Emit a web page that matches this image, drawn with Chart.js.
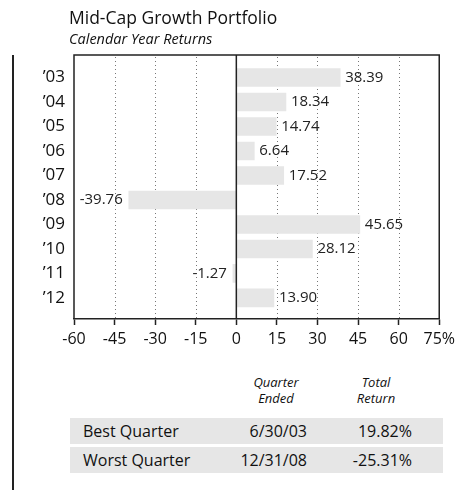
<!DOCTYPE html>
<html>
<head>
<meta charset="utf-8">
<script src="https://cdn.jsdelivr.net/npm/chart.js@4/dist/chart.umd.min.js"></script>
<style>
  body { margin: 0; background: #fff; font-family: "Open Sans", sans-serif; color: #111; }
  #wrap { position: relative; width: 460px; height: 490px; overflow: hidden; }
  #title { position: absolute; left: 69px; top: 5px; font-size: 17.5px; }
  #subtitle { position: absolute; left: 69px; top: 29px; font-size: 14.5px; font-style: italic; }
  #leftRule { position: absolute; left: 12px; top: 55px; width: 1.5px; height: 435px; background: #222; }
  #chartBox { position: absolute; left: 0; top: 0; }
  .hdr { position: absolute; font-size: 13px; font-style: italic; text-align: center; line-height: 16px; width: 90px; }
  .row { position: absolute; left: 70px; width: 373px; height: 26px; background: #e6e6e6; font-size: 16px; line-height: 26px; }
  .row span { position: absolute; }
  .c1 { left: 13px; }
  .c2 { right: 136px; }
  .c3 { right: 31px; }
</style>
</head>
<body>
<div id="wrap">
  <div id="chartBox"><canvas id="returnsChart" width="460" height="360"></canvas></div>
  <div id="title">Mid-Cap Growth Portfolio</div>
  <div id="subtitle">Calendar Year Returns</div>
  <div id="leftRule"></div>

  <div class="hdr" style="left:231px; top:374px;">Quarter<br>Ended</div>
  <div class="hdr" style="left:331px; top:374px;">Total<br>Return</div>
  <div class="row" style="top:418px;"><span class="c1">Best Quarter</span><span class="c2">6/30/03</span><span class="c3">19.82%</span></div>
  <div class="row" style="top:447px;"><span class="c1">Worst Quarter</span><span class="c2">12/31/08</span><span class="c3">-25.31%</span></div>
</div>

<script>
// chart data
const years = ["’03", "’04", "’05", "’06", "’07", "’08", "’09", "’10", "’11", "’12"];
const returns = [38.39, 18.34, 14.74, 6.64, 17.52, -39.76, 45.65, 28.12, -1.27, 13.90];
const xTicks = [-60, -45, -30, -15, 0, 15, 30, 45, 60, 75];

const FONT = "'Open Sans', sans-serif";
const INK = "#222";

// dotted grid + frame + zero line, all placed through the x scale
const framePlugin = {
  id: "frame",
  beforeDatasetsDraw(chart) {
    const { ctx, chartArea: a, scales: { x } } = chart;
    ctx.save();
    ctx.strokeStyle = "#777";
    ctx.lineWidth = 1;
    ctx.setLineDash([1, 3]);
    xTicks.forEach(function (t) {
      if (t === 0 || t === x.min || t === x.max) return;
      const px = Math.round(x.getPixelForValue(t)) + 0.5;
      ctx.beginPath();
      ctx.moveTo(px, a.top + 2);
      ctx.lineTo(px, a.bottom);
      ctx.stroke();
    });
    ctx.restore();
  },
  afterDatasetsDraw(chart) {
    const { ctx, chartArea: a, scales: { x } } = chart;
    ctx.save();
    ctx.strokeStyle = INK;
    ctx.lineWidth = 1.5;
    const zx = x.getPixelForValue(0);
    ctx.beginPath();
    ctx.moveTo(zx, a.top);
    ctx.lineTo(zx, a.bottom);
    ctx.stroke();
    ctx.beginPath();
    ctx.moveTo(a.left, a.bottom);
    ctx.lineTo(a.left, a.top);
    ctx.lineTo(a.right, a.top);
    ctx.lineTo(a.right, a.bottom);
    ctx.stroke();

    // value labels at bar ends
    const meta = chart.getDatasetMeta(0);
    ctx.fillStyle = INK;
    ctx.font = "15px " + FONT;
    ctx.textBaseline = "middle";
    meta.data.forEach(function (bar, i) {
      const v = returns[i];
      if (v >= 0) {
        ctx.textAlign = "left";
        ctx.fillText(v.toFixed(2), bar.x + 5, bar.y);
      } else {
        ctx.textAlign = "right";
        ctx.fillText(v.toFixed(2), bar.x - 6, bar.y);
      }
    });
    ctx.restore();
  }
};

const canvas = document.getElementById("returnsChart");

new Chart(canvas, {
  type: "bar",
  data: {
    datasets: [{
      data: returns.map(function (v, i) { return { x: v, y: i }; }),
      backgroundColor: "#e6e6e6",
      borderWidth: 0,
      barThickness: 18
    }]
  },
  options: {
    indexAxis: "y",
    responsive: false,
    animation: false,
    layout: { padding: { top: 55, right: 19, left: 0, bottom: 0 } },
    plugins: { legend: { display: false }, tooltip: { enabled: false } },
    scales: {
      x: {
        type: "linear",
        min: -60,
        max: 75,
        afterBuildTicks: function (scale) {
          scale.ticks = xTicks.map(function (v) { return { value: v }; });
        },
        afterFit: function (scale) { scale.height = 41; },
        grid: { drawOnChartArea: false, drawTicks: true, tickLength: 6, tickColor: INK, tickWidth: 1.5 },
        border: { display: true, color: INK, width: 1.5 },
        ticks: {
          color: "#111",
          font: { family: FONT, size: 16 },
          padding: 5,
          maxRotation: 0,
          callback: function (v) { return v === 75 ? "75%" : String(v); }
        }
      },
      y: {
        type: "linear",
        reverse: true,
        offset: false,
        min: -0.92,
        max: 9.86,
        afterBuildTicks: function (scale) {
          scale.ticks = years.map(function (_, i) { return { value: i }; });
        },
        afterFit: function (scale) { scale.width = 74; },
        grid: { display: false, drawTicks: false },
        border: { display: false },
        ticks: {
          color: "#111",
          font: { family: FONT, size: 17 },
          padding: 9,
          callback: function (v) { return years[v]; }
        }
      }
    }
  },
  plugins: [framePlugin]
});
</script>
</body>
</html>
